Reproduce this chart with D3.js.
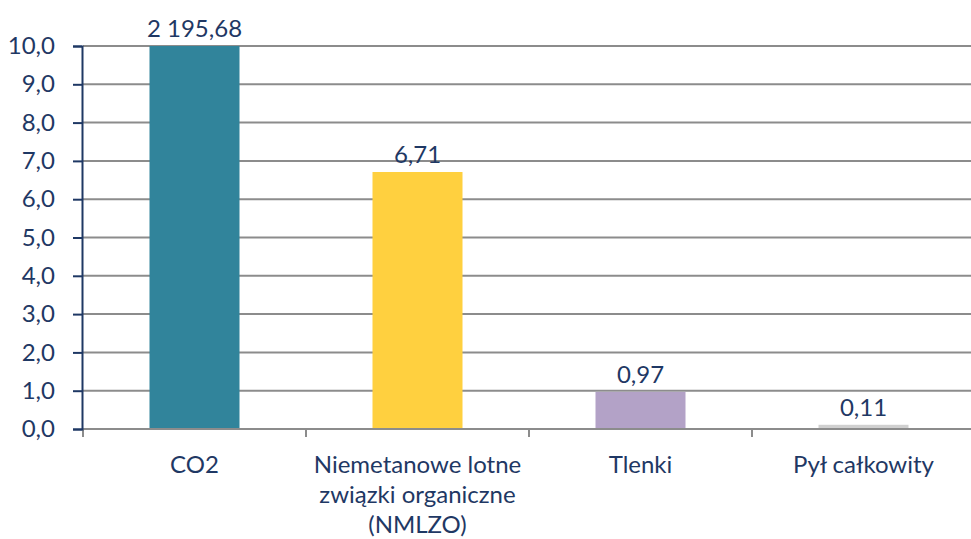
<!DOCTYPE html>
<html>
<head>
<meta charset="utf-8">
<script src="https://cdn.jsdelivr.net/npm/d3@7"></script>
<style>
  body { margin: 0; background: #fff; }
  svg { font-family: Lato, "Noto Sans", sans-serif; }
  .grid line { stroke: #8c8c8c; stroke-width: 2; }
  .lbl { fill: #1f3864; font-size: 24px; }
</style>
</head>
<body>
<div id="chart"></div>
<script>
const categories = [['CO2'], ['Niemetanowe lotne', 'związki organiczne', '(NMLZO)'], ['Tlenki'], ['Pył całkowity']]
const values = [2195.68, 6.71, 0.97, 0.11]
const valueLabels = ['2 195,68', '6,71', '0,97', '0,11']
const colors = ['#31849b', '#ffd03f', '#b3a2c7', '#d0d0d0']
const yTicks = [0, 1, 2, 3, 4, 5, 6, 7, 8, 9, 10]

const width = 971
const height = 539
const margin = { left: 83, right: -4, top: 46, bottom: 110 }

const svg = d3.select('#chart')
  .append('svg')
  .attr('width', width)
  .attr('height', height)

const x = d3.scaleBand()
  .domain(d3.range(categories.length))
  .range([margin.left, width - margin.right])
  .paddingInner(0)
  .paddingOuter(0)

const y = d3.scaleLinear()
  .domain([0, 10])
  .range([height - margin.bottom, margin.top])

// gridlines
svg.append('g')
  .attr('class', 'grid')
  .selectAll('line')
  .data(yTicks.filter(d => d > 0))
  .enter()
    .append('line')
    .attr('x1', margin.left)
    .attr('x2', width)
    .attr('y1', d => y(d))
    .attr('y2', d => y(d))

// bars (clipped at axis max)
const bw = 90
svg.selectAll('.bar')
  .data(values)
  .enter()
    .append('rect')
    .attr('class', 'bar')
    .attr('x', (d, i) => x(i) + x.bandwidth() / 2 - bw / 2)
    .attr('width', bw)
    .attr('y', d => y(Math.min(d, 10)))
    .attr('height', d => y(0) - y(Math.min(d, 10)))
    .attr('fill', (d, i) => colors[i])

// value labels
svg.selectAll('.val')
  .data(values)
  .enter()
    .append('text')
    .attr('class', 'lbl')
    .attr('text-anchor', 'middle')
    .attr('x', (d, i) => x(i) + x.bandwidth() / 2)
    .attr('y', d => y(Math.min(d, 10)) - 9)
    .text((d, i) => valueLabels[i])

// x axis
svg.append('line')
  .attr('x1', margin.left).attr('x2', width)
  .attr('y1', y(0)).attr('y2', y(0))
  .attr('stroke', '#8c8c8c').attr('stroke-width', 2)
svg.selectAll('.xtick')
  .data(d3.range(categories.length))
  .enter()
    .append('line')
    .attr('x1', d => x(d)).attr('x2', d => x(d))
    .attr('y1', y(0)).attr('y2', y(0) + 8)
    .attr('stroke', '#8c8c8c').attr('stroke-width', 2)

// category labels
svg.selectAll('.cat')
  .data(categories)
  .enter()
    .append('text')
    .attr('class', 'lbl')
    .attr('text-anchor', 'middle')
    .attr('x', (d, i) => x(i) + x.bandwidth() / 2)
    .attr('y', 473)
    .selectAll('tspan')
    .data(d => d)
    .enter()
      .append('tspan')
      .attr('x', function () { return this.parentNode.getAttribute('x') })
      .attr('dy', (d, i) => i === 0 ? 0 : 30)
      .text(d => d)

// y axis
const yAxis = d3.axisLeft(y)
  .tickValues(yTicks)
  .tickSize(9)
  .tickPadding(18)
  .tickFormat(d => d3.format('.1f')(d).replace('.', ','))
const ya = svg.append('g')
  .attr('transform', `translate(${margin.left - 1},0)`)
  .call(yAxis)
ya.select('.domain').attr('stroke', '#1f3864').attr('stroke-width', 2)
ya.selectAll('.tick line').attr('stroke', '#1f3864').attr('stroke-width', 2)
ya.selectAll('.tick text')
  .attr('fill', '#1f3864')
  .style('font-size', '24px')
  .style('font-family', 'Lato, "Noto Sans", sans-serif')
</script>
</body>
</html>
